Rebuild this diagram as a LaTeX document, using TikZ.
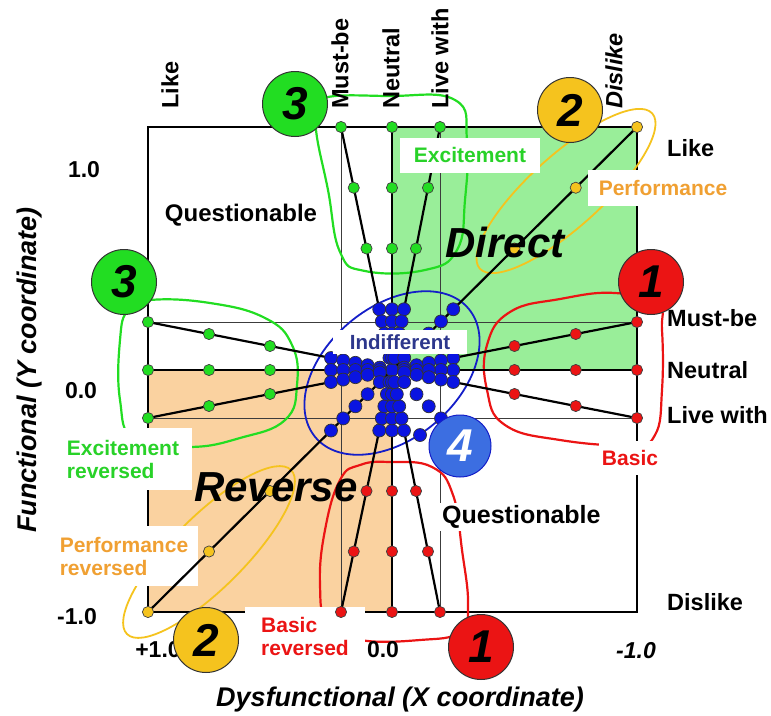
\documentclass[tikz,border=0pt]{standalone}
\usepackage{fontspec}
\setmainfont{Liberation Sans}
\usetikzlibrary{calc}

\definecolor{directfill}{RGB}{153,238,153}
\definecolor{reversefill}{RGB}{250,210,160}
\definecolor{excgreen}{RGB}{34,221,34}
\definecolor{exctext}{RGB}{40,210,40}
\definecolor{perfyellow}{RGB}{245,195,30}
\definecolor{perftext}{RGB}{240,160,50}
\definecolor{basicred}{RGB}{235,20,20}
\definecolor{indblue}{RGB}{10,20,225}
\definecolor{indline}{RGB}{20,30,200}
\definecolor{indtext}{RGB}{45,55,140}
\definecolor{qblue}{RGB}{60,110,225}
\definecolor{gridgray}{RGB}{60,60,60}

\newcommand{\kfont}[1]{\fontsize{#1}{#1}\selectfont}

\tikzset{
  gridline/.style={draw=gridgray, line width=1pt},
  frameline/.style={draw=black, line width=2.4pt},
  dataline/.style={draw=black, line width=2.2pt},
  loopline/.style={line width=2.2pt},
  dotstyle/.style={draw=black!75, line width=0.7pt},
  bluedot/.style={draw=black!80, line width=0.7pt, fill=indblue},
  answer/.style={font=\kfont{23.5}\bfseries, inner sep=0pt},
  tick/.style={font=\kfont{23}\bfseries, inner sep=0pt},
  catlabel/.style={fill=white, inner sep=1pt, font=\fontsize{21}{23}\selectfont\bfseries, align=left},
  bigword/.style={font=\kfont{42}\bfseries\itshape, inner sep=0pt},
  axislabel/.style={font=\kfont{27}\bfseries\itshape, inner sep=0pt},
  numcircle/.style={circle, draw=black!80, line width=1pt, minimum size=65pt, inner sep=0pt, font=\kfont{46}\bfseries\itshape},
}

\begin{document}
\begin{tikzpicture}[x=1pt, y=-1pt]
\useasboundingbox (0,0) rectangle (771,715);

% quadrant fills
\fill[directfill] (392,127) rectangle (637,370);
\fill[reversefill] (148,370) rectangle (392,612);

% answer grid
\foreach \gx in {341,392,440} \draw[gridline] (\gx,127) -- (\gx,612);
\foreach \gy in {322,370,418} \draw[gridline] (148,\gy) -- (637,\gy);

% outer frame
\draw[frameline] (148,127) rectangle (637,612);

% end points of the evaluation lines
\coordinate (C) at (392,370);
\coordinate (E1) at (341,127);
\coordinate (E2) at (392,127);
\coordinate (E3) at (440,127);
\coordinate (P1) at (637,127);
\coordinate (B1) at (637,322);
\coordinate (B2) at (637,370);
\coordinate (B3) at (637,418);
\coordinate (R1) at (148,322);
\coordinate (R2) at (148,370);
\coordinate (R3) at (148,418);
\coordinate (Q1) at (148,612);
\coordinate (D1) at (341,612);
\coordinate (D2) at (392,612);
\coordinate (D3) at (440,612);
\coordinate (Z) at (637,612);

% category outlines
\draw[loopline, draw=excgreen] plot[smooth cycle, tension=0.75] coordinates
  {(318,100) (390,96) (455,100) (467,140) (465,200) (457,250) (425,270) (365,271) (340,252) (328,190) (316,130)};
\draw[loopline, draw=excgreen] plot[smooth cycle, tension=0.75] coordinates
  {(150,300) (210,303) (265,318) (292,345) (297,385) (285,420) (240,438) (190,447) (135,440) (120,400) (120,340) (128,310)};
\draw[loopline, draw=basicred] plot[smooth cycle, tension=0.75] coordinates
  {(615,293) (560,299) (510,312) (487,345) (487,390) (505,425) (560,440) (630,445) (655,435) (662,390) (662,330) (657,305)};
\draw[loopline, draw=basicred] plot[smooth cycle, tension=0.75] coordinates
  {(390,462) (432,467) (453,495) (462,550) (468,605) (460,632) (420,640) (360,640) (328,625) (320,585) (325,530) (340,480) (360,465)};
\draw[line width=1.8pt, draw=perfyellow, shift={(566,191)}, rotate=42] (0,0) ellipse (116pt and 36pt);
\draw[line width=1.8pt, draw=perfyellow, shift={(209,552)}, rotate=45] (0,0) ellipse (116pt and 36pt);
\draw[line width=1.8pt, draw=indline, shift={(392,373)}, rotate=40] (0,0) ellipse (100pt and 66pt);

% labels that sit over the frame at the left and bottom
\node[catlabel, text=exctext, minimum width=137pt, minimum height=62pt] (lblExcRev) at (123,459) {Excitement\\reversed};
\node[catlabel, text=perftext, minimum width=148pt, minimum height=60pt] (lblPerfRev) at (124,556) {Performance\\reversed};
\node[catlabel, text=basicred, minimum width=120pt, minimum height=58pt] (lblBasicRev) at (305,636) {Basic\\reversed};

% evaluation lines
\foreach \p in {E1,E2,E3,P1,B1,B2,B3,R1,R2,R3,Q1,D1,D2,D3}
  \draw[dataline] (\p) -- (C);

% answer points
\foreach \p/\c in {E1/excgreen,E2/excgreen,E3/excgreen,R1/excgreen,R2/excgreen,R3/excgreen,
                   P1/perfyellow,Q1/perfyellow,
                   B1/basicred,B2/basicred,B3/basicred,D1/basicred,D2/basicred,D3/basicred}
  \foreach \t in {1,0.75,0.5}
    \filldraw[dotstyle, fill=\c] ($(C)!\t!(\p)$) circle (5.6pt);

% indifferent cluster around the origin
\filldraw[bluedot] (C) circle (6.5pt);
\foreach \p in {E1,E2,E3,P1,B1,B2,B3,R1,R2,R3,Q1,D1,D2,D3,Z}
  \foreach \t in {0.25,0.2,0.15,0.1,0.05}
    \filldraw[bluedot] ($(C)!\t!(\p)$) circle (6.5pt);
\filldraw[bluedot] (420,435) circle (6.5pt);

% category labels
\node[catlabel, text=exctext, minimum width=140pt, minimum height=35pt, align=center] (lblExc) at (470,155) {Excitement};
\node[catlabel, text=perftext, minimum width=150pt, minimum height=36pt, align=center] (lblPerf) at (663,188) {Performance};
\node[catlabel, text=basicred, minimum width=62pt, minimum height=34pt, align=center] (lblBasic) at (630,458) {Basic};
\node[catlabel, text=indtext, font=\kfont{20.5}\bfseries, minimum width=134pt, minimum height=24pt, align=center] (lblInd) at (400,342) {Indifferent};
\node[fill=white, inner sep=2pt, font=\kfont{25}\bfseries, anchor=west] (lblQuestB) at (440,517) {Questionable};
\node[font=\kfont{24}\bfseries, inner sep=0pt] (lblQuestT) at (241,215) {Questionable};

% quadrant names
\node[bigword] (lblDirect) at (505,242) {Direct};
\node[bigword] (lblReverse) at (276,487) {Reverse};

% answers along the top (dysfunctional) and the right (functional)
\node[answer, rotate=90, anchor=west] (tLike) at (170,109) {Like};
\node[answer, rotate=90, anchor=west] (tMust) at (340,109) {Must-be};
\node[answer, rotate=90, anchor=west] (tNeutral) at (391,109) {Neutral};
\node[answer, rotate=90, anchor=west] (tLive) at (440,109) {Live with};
\node[answer, rotate=90, anchor=west, font=\kfont{23.5}\bfseries\itshape] (tDislike) at (614,109) {Dislike};

\node[answer, anchor=west] (rLike) at (667,148) {Like};
\node[answer, anchor=west] (rMust) at (667,318) {Must-be};
\node[answer, anchor=west] (rNeutral) at (667,370) {Neutral};
\node[answer, anchor=west] (rLive) at (667,415) {Live with};
\node[answer, anchor=west] (rDislike) at (667,602) {Dislike};

% axis values
\node[tick] (yTop) at (84,170) {1.0};
\node[tick] (yMid) at (81,391) {0.0};
\node[tick] (yBot) at (77,617) {-1.0};
\node[tick] (xLeft) at (158,650) {+1.0};
\node[tick] (xMid) at (383,650) {0.0};
\node[tick, font=\kfont{23}\bfseries\itshape] (xRight) at (636,651) {-1.0};

% axis titles
\node[axislabel, anchor=base] (xTitle) at (400,706) {Dysfunctional (X coordinate)};
\node[axislabel, anchor=base, rotate=90] (yTitle) at (36,370) {Functional (Y coordinate)};

% numbered category markers
\node[numcircle, fill=excgreen] (n3a) at (295,104) {3};
\node[numcircle, fill=excgreen] (n3b) at (124,282) {3};
\node[numcircle, fill=perfyellow] (n2a) at (570,110) {2};
\node[numcircle, fill=perfyellow] (n2b) at (206,640) {2};
\node[numcircle, fill=basicred] (n1a) at (651,282) {1};
\node[numcircle, fill=basicred] (n1b) at (481,647) {1};
\node[numcircle, fill=qblue, draw=indline, text=white, minimum size=62pt] (n4) at (460,446) {4};
\end{tikzpicture}
\end{document}
